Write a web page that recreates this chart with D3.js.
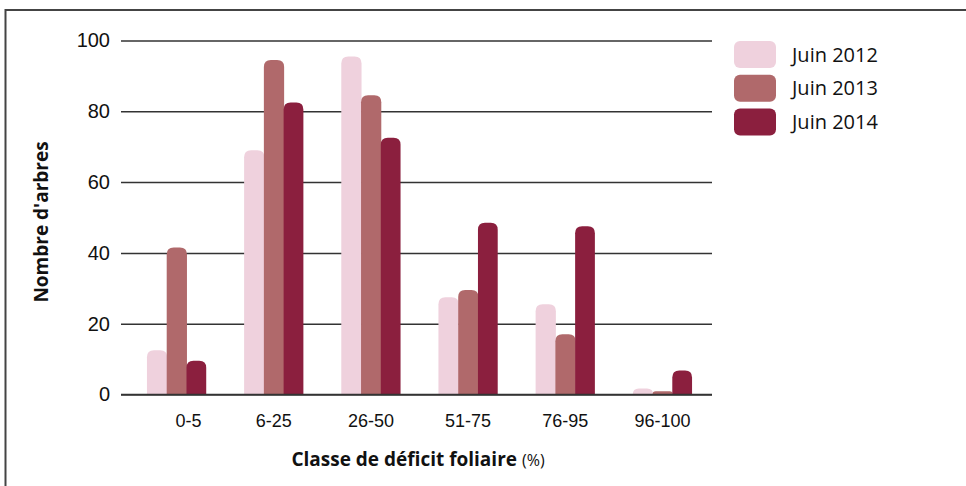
<!DOCTYPE html>
<html>
<head>
<meta charset="utf-8">
<script src="https://cdn.jsdelivr.net/npm/d3@7"></script>
<style>
  body { margin: 0; background: #fff; }
  svg { display: block; font-family: "Open Sans", "Noto Sans", sans-serif; }
</style>
</head>
<body>
<div id="chart"></div>
<script>
// data
const classes = ["0-5", "6-25", "26-50", "51-75", "76-95", "96-100"];
const years = ["Juin 2012", "Juin 2013", "Juin 2014"];
const juin2012 = [12.5, 69, 95.5, 27.5, 25.5, 1.7];
const juin2013 = [41.5, 94.5, 84.5, 29.5, 17, 0.9];
const juin2014 = [9.5, 82.5, 72.5, 48.5, 47.5, 6.8];
const yTicks = [0, 20, 40, 60, 80, 100];
const colors = ["#efd1dd", "#b0696b", "#8b1f3e"];

const width = 966, height = 486;
const margin = { top: 40.5, bottom: 91.5, left: 128, right: 255 };

const series = [juin2012, juin2013, juin2014];
const rows = classes.map((c, i) => ({ cls: c, values: series.map(s => s[i]) }));

const svg = d3.select("#chart")
  .append("svg")
  .attr("width", width)
  .attr("height", height);

// outer frame (only top and left visible)
svg.append("path")
  .attr("d", `M5.5,${height + 2}V10H${width + 2}`)
  .attr("fill", "none")
  .attr("stroke", "#444")
  .attr("stroke-width", 2);

const x0 = d3.scaleBand()
  .domain(classes)
  .range([margin.left, width - margin.right])
  .paddingInner(0.39)
  .paddingOuter(0.195);

const x1 = d3.scaleBand()
  .domain(years)
  .range([0, x0.bandwidth()]);

const y = d3.scaleLinear()
  .domain([0, 100])
  .range([height - margin.bottom, margin.top]);

// gridlines + y tick labels
const yAxis = svg.append("g")
  .attr("class", "y-axis")
  .attr("transform", `translate(121,0)`)
  .call(d3.axisLeft(y).tickValues(yTicks).tickSize(-(712 - 121)).tickPadding(11));
yAxis.select(".domain").remove();
yAxis.selectAll(".tick line").attr("stroke", "#333").attr("stroke-width", 1.5);
yAxis.selectAll("text")
  .style("font-size", "20px")
  .attr("fill", "#111");

// rounded-top bar path
function barPath(x, yTop, w, y0) {
  const h = y0 - yTop;
  const r = Math.min(7, h, w / 2);
  return `M${x},${y0}V${yTop + r}Q${x},${yTop} ${x + r},${yTop}H${x + w - r}Q${x + w},${yTop} ${x + w},${yTop + r}V${y0}Z`;
}

const groups = svg.append("g")
  .selectAll("g")
  .data(rows)
  .join("g")
  .attr("transform", d => `translate(${x0(d.cls)},0)`);

groups.selectAll("path")
  .data(d => d.values.map((v, j) => ({ year: years[j], value: v, j })))
  .join("path")
  .attr("d", d => barPath(x1(d.year), y(d.value), x1.bandwidth() + (d.j < 2 ? 0.5 : 0), y(0)))
  .attr("fill", d => colors[d.j]);

// baseline on top of bars
svg.append("line")
  .attr("x1", 121).attr("x2", 712)
  .attr("y1", y(0)).attr("y2", y(0))
  .attr("stroke", "#333").attr("stroke-width", 1.5);

// x axis labels
const xAxis = svg.append("g")
  .attr("class", "x-axis")
  .attr("transform", `translate(0,${y(0)})`)
  .call(d3.axisBottom(x0).tickSize(0).tickPadding(20));
xAxis.select(".domain").remove();
xAxis.selectAll("text")
  .style("font-size", "18px")
  .attr("fill", "#111")
  .attr("dx", d => d === "0-5" ? 12 : 0);

// axis titles
svg.append("text")
  .attr("transform", "translate(48,222) rotate(-90)")
  .attr("text-anchor", "middle")
  .style("font-size", "19px")
  .style("font-weight", "bold")
  .attr("fill", "#111")
  .text("Nombre d'arbres");

const xTitle = svg.append("text")
  .attr("x", 418)
  .attr("y", 466)
  .attr("text-anchor", "middle")
  .attr("fill", "#111");
xTitle.append("tspan")
  .style("font-size", "19px")
  .style("font-weight", "bold")
  .text("Classe de déficit foliaire ");
xTitle.append("tspan")
  .style("font-size", "16px")
  .text("(%)");

// legend
const legend = svg.append("g")
  .attr("transform", "translate(734,41)")
  .selectAll("g")
  .data(years)
  .join("g")
  .attr("transform", (d, i) => `translate(0,${i * 33.7})`);

legend.append("rect")
  .attr("width", 42)
  .attr("height", 27)
  .attr("rx", 6)
  .attr("fill", (d, i) => colors[i]);

legend.append("text")
  .attr("x", 58)
  .attr("y", 13.5)
  .attr("dy", "0.36em")
  .style("font-size", "20px")
  .attr("fill", "#111")
  .text(d => d);
</script>
</body>
</html>
